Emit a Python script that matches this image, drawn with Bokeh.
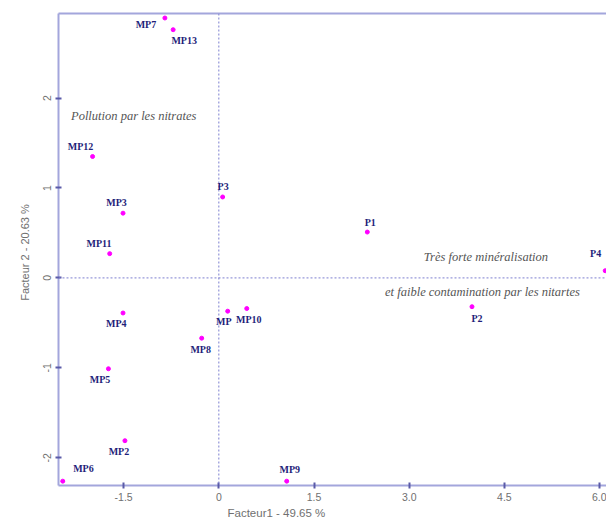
from bokeh.plotting import figure
from bokeh.models import (ColumnDataSource, LabelSet, Label, Span, FixedTicker,
                          Range1d, Title, LinearAxis)
from bokeh.embed import file_html
from bokeh.resources import INLINE

# ---- data ----
names = ["MP7", "MP13", "MP12", "P3", "MP3", "MP11", "P1", "P4", "P2",
         "MP4", "MP", "MP10", "MP8", "MP5", "MP2", "MP6", "MP9"]
factor1 = [-0.85, -0.72, -1.99, 0.06, -1.51, -1.72, 2.34, 6.09, 3.99,
           -1.51, 0.14, 0.44, -0.27, -1.74, -1.48, -2.46, 1.07]
factor2 = [2.89, 2.76, 1.35, 0.90, 0.72, 0.27, 0.51, 0.08, -0.32,
           -0.39, -0.37, -0.34, -0.67, -1.01, -1.81, -2.26, -2.26]
# label placement (pixel offsets of each label centre from its point)
label_dx = [-19, 11, -12, 0.5, -6.5, -10.7, 3, -9.6, 5,
            -6.7, -4, 2, -1, -8.4, -6, 20.7, 3]
label_dy = [-7, -11, 10, 10, 10.6, 10, 10, 17, -11.6,
            -11, -10.7, -11.3, -11, -11, -10.7, 12.7, 11.7]

x_ticks = [-1.5, 0, 1.5, 3.0, 4.5, 6.0]
x_tick_labels = ["-1.5", "0", "1.5", "3.0", "4.5", "6.0"]
y_ticks = [-2, -1, 0, 1, 2]
y_tick_labels = ["-2", "-1", "0", "1", "2"]

x_title = "Facteur1  -  49.65 %"
y_title = "Facteur 2  -  20.63 %"

notes = ["Pollution par les nitrates", "Très forte minéralisation",
         "et faible contamination par les nitartes"]
note_x = [-2.33, 3.23, 2.62]
note_y = [1.80, 0.237, -0.152]

AXIS = "#a3a6dc"
TICK = "#5a5aa8"
GREY = "#707070"

p = figure(frame_width=548, frame_height=472,
           x_range=Range1d(-2.527, 6.11), y_range=Range1d(-2.308, 2.94),
           output_backend="svg", toolbar_location=None,
           min_border_left=58, min_border_right=0, min_border_top=13, min_border_bottom=41,
           background_fill_color="white", border_fill_color="white")
p.grid.visible = False
p.outline_line_color = None

xax = p.below[0]
yax = p.left[0]

for ax in (xax, yax):
    ax.axis_line_color = AXIS
    ax.axis_line_width = 2
    ax.major_tick_line_color = TICK
    ax.major_tick_line_width = 2
    ax.major_tick_in = 3
    ax.major_tick_out = 3
    ax.minor_tick_line_color = None
    ax.major_label_text_color = GREY
    ax.major_label_text_font = "Liberation Sans"
    ax.major_label_text_font_size = "10.5px"
    ax.major_label_standoff = 4

xax.ticker = FixedTicker(ticks=x_ticks)
xax.major_label_overrides = {float(k): v for k, v in zip(x_ticks, x_tick_labels)}
yax.ticker = FixedTicker(ticks=y_ticks)
yax.major_label_overrides = {float(k): v for k, v in zip(y_ticks, y_tick_labels)}
yax.major_label_orientation = "vertical"
yax.axis_label = y_title
yax.axis_label_text_font = "Liberation Sans"
yax.axis_label_text_font_style = "normal"
yax.axis_label_text_font_size = "11px"
yax.axis_label_text_color = GREY
yax.axis_label_standoff = 10

# top frame line (an unlabelled axis without ticks)
top = LinearAxis(ticker=FixedTicker(ticks=[]), axis_line_color=AXIS, axis_line_width=2,
                 major_tick_line_color=None, minor_tick_line_color=None,
                 major_label_text_color=None, major_label_standoff=0)
p.add_layout(top, "above")

src = ColumnDataSource(dict(x=factor1, y=factor2, name=names,
                            dx=label_dx, dy=label_dy))

p.add_layout(Span(location=0, dimension="height", line_color="#7d7fd0",
                  line_dash="2 2", line_width=1))
p.add_layout(Span(location=0, dimension="width", line_color="#7d7fd0",
                  line_dash="2 2", line_width=1))

p.scatter("x", "y", source=src, size=4, color="#ff00ff", line_color="#ff00ff")

p.add_layout(LabelSet(x="x", y="y", text="name", source=src,
                      x_offset="dx", y_offset="dy",
                      text_align="center", text_baseline="middle",
                      text_font="Liberation Serif", text_font_style="bold",
                      text_font_size="10px", text_color="#1f1f7a"))

for t, nx, ny in zip(notes, note_x, note_y):
    p.add_layout(Label(x=nx, y=ny, text=t, text_align="left", text_baseline="middle",
                       text_font="Liberation Serif", text_font_style="italic",
                       text_font_size="12.5px", text_color="#555555"))

p.add_layout(Title(text=x_title, align="left", offset=169, standoff=3,
                   text_font="Liberation Sans", text_font_style="normal",
                   text_font_size="11.5px", text_color=GREY), "below")

open("out.html", "w").write(file_html(p, INLINE))
